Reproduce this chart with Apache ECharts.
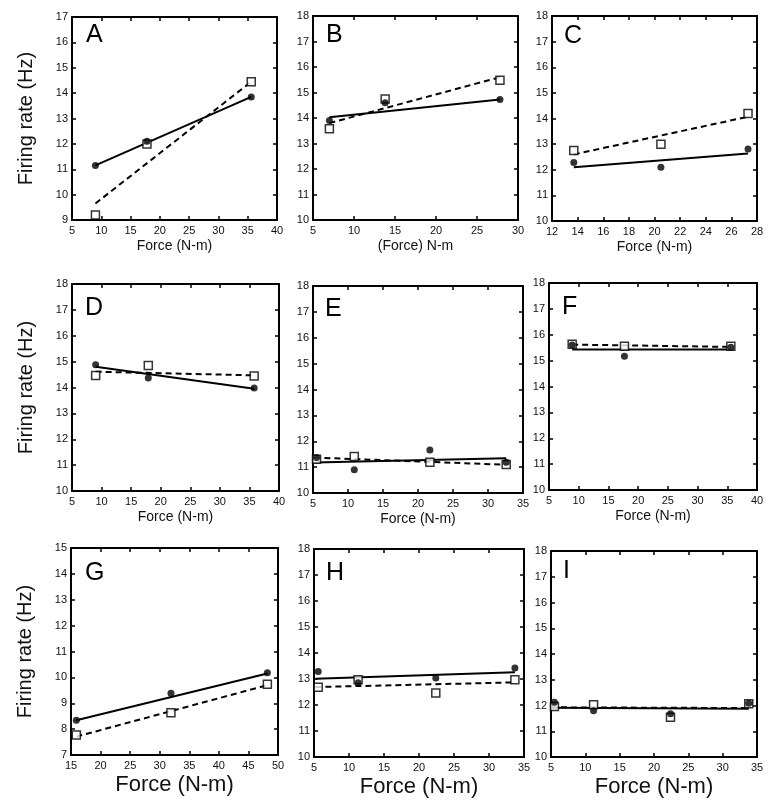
<!DOCTYPE html>
<html>
<head>
<meta charset="utf-8">
<script src="https://cdn.jsdelivr.net/npm/echarts@6/dist/echarts.min.js"></script>
<style>
  html, body { margin: 0; padding: 0; background: #fff; }
  #chart { width: 776px; height: 811px; }
</style>
</head>
<body>
<div id="chart"></div>
<script>
// panel letters and axis ranges [min, max, step]
var letters = ['A', 'B', 'C', 'D', 'E', 'F', 'G', 'H', 'I']
var xRanges = [[5, 40, 5], [5, 30, 5], [12, 28, 2], [5, 40, 5], [5, 35, 5], [5, 40, 5], [15, 50, 5], [5, 35, 5], [5, 35, 5]]
var yRanges = [[9, 17, 1], [10, 18, 1], [10, 18, 1], [10, 18, 1], [10, 18, 1], [10, 18, 1], [7, 15, 1], [10, 18, 1], [10, 18, 1]]
var xNames = ['Force (N-m)', '(Force) N-m', 'Force (N-m)', 'Force (N-m)', 'Force (N-m)', 'Force (N-m)', 'Force (N-m)', 'Force (N-m)', 'Force (N-m)']

// force values (x) per panel
var forceA = [9, 17.8, 35.6]
var forceB = [7, 13.8, 27.8]
var forceC = [13.7, 20.5, 27.3]
var forceD = [9, 17.9, 35.8]
var forceE = [5.5, 10.9, 21.7, 32.6]
var forceF = [8.9, 17.7, 35.6]
var forceG = [15.9, 31.9, 48.2]
var forceH = [5.6, 11.3, 22.4, 33.7]
var forceI = [5.5, 11.2, 22.4, 33.8]

// firing rate, filled circles
var circleA = [11.15, 12.1, 13.85]
var circleB = [13.9, 14.6, 14.73]
var circleC = [12.28, 12.1, 12.81]
var circleD = [14.88, 14.37, 13.98]
var circleE = [11.37, 10.9, 11.66, 11.19]
var circleF = [15.6, 15.17, 15.52]
var circleG = [8.34, 9.39, 10.18]
var circleH = [13.29, 12.86, 13.04, 13.42]
var circleI = [12.13, 11.8, 11.68, 12.09]

// firing rate, open squares
var squareA = [9.2, 12.0, 14.45]
var squareB = [13.58, 14.75, 15.48]
var squareC = [12.75, 13.0, 14.2]
var squareD = [14.46, 14.85, 14.44]
var squareE = [11.3, 11.41, 11.19, 11.1]
var squareF = [15.63, 15.56, 15.56]
var squareG = [7.77, 8.63, 9.73]
var squareH = [12.68, 12.97, 12.46, 12.97]
var squareI = [11.96, 12.03, 11.54, 12.07]

// fitted lines, end points
var solidA = [[9, 11.15], [35.6, 13.85]]
var solidB = [[7, 14.03], [27.8, 14.73]]
var solidC = [[13.7, 12.1], [27.3, 12.63]]
var solidD = [[9, 14.8], [35.8, 13.95]]
var solidE = [[5.2, 11.18], [32.6, 11.34]]
var solidF = [[8.9, 15.43], [35.6, 15.43]]
var solidG = [[15.9, 8.34], [48.2, 10.15]]
var solidH = [[5.2, 13.01], [33.7, 13.26]]
var solidI = [[5, 11.91], [33.8, 11.87]]

var dashA = [[9, 9.65], [35.6, 14.45]]
var dashB = [[7, 13.8], [27.8, 15.6]]
var dashC = [[13.7, 12.6], [27.3, 14.07]]
var dashD = [[9, 14.61], [35.8, 14.47]]
var dashE = [[5.2, 11.37], [32.6, 11.09]]
var dashF = [[8.9, 15.62], [35.6, 15.53]]
var dashG = [[15.9, 7.71], [48.2, 9.7]]
var dashH = [[5.2, 12.69], [33.7, 12.87]]
var dashI = [[5, 11.93], [33.8, 11.9]]

var forces = [forceA, forceB, forceC, forceD, forceE, forceF, forceG, forceH, forceI]
var circles = [circleA, circleB, circleC, circleD, circleE, circleF, circleG, circleH, circleI]
var squares = [squareA, squareB, squareC, squareD, squareE, squareF, squareG, squareH, squareI]
var solids = [solidA, solidB, solidC, solidD, solidE, solidF, solidG, solidH, solidI]
var dashes = [dashA, dashB, dashC, dashD, dashE, dashF, dashG, dashH, dashI]

// plot boxes [left, top, right, bottom] in px
var boxes = [
  [72, 17, 277, 220], [313, 16, 518, 220], [552, 16, 757, 221],
  [72, 284, 279, 491], [313, 286, 523, 493], [549, 283, 757, 490],
  [71, 548, 278, 755], [314, 549, 524, 757], [551, 551, 757, 757]
]
// letter positions [left, top]
var letterPos = [
  [86, 23], [326, 23], [564, 24],
  [85, 296], [325, 297], [562, 295],
  [85, 561], [326, 561], [563, 559]
]

var font = 'Liberation Sans, Arial, sans-serif'
var grids = [], xAxes = [], yAxes = [], series = [], titles = []

function pairs(xs, ys) {
  return xs.map(function(x, i) { return [x, ys[i]] })
}

for (var i = 0; i < 9; i++) {
  var b = boxes[i]
  var bigRow = i >= 6
  grids.push({ left: b[0], top: b[1], width: b[2] - b[0], height: b[3] - b[1] })

  var line = { show: true, lineStyle: { color: '#000', width: 2 } }
  var tick = { show: true, inside: true, length: 4, lineStyle: { color: '#000', width: 1.5 } }

  xAxes.push({
    gridIndex: i, type: 'value', position: 'bottom',
    min: xRanges[i][0], max: xRanges[i][1], interval: xRanges[i][2],
    axisLine: line, axisTick: tick, splitLine: { show: false },
    axisLabel: { fontSize: 11, margin: 5, color: '#111', fontFamily: font },
    name: xNames[i], nameLocation: 'middle', nameGap: bigRow ? 19 : 19,
    nameTextStyle: { fontSize: bigRow ? 22 : 14, color: '#111', fontFamily: font }
  })
  xAxes.push({
    gridIndex: i, type: 'value', position: 'top',
    min: xRanges[i][0], max: xRanges[i][1], interval: xRanges[i][2],
    axisLine: line, axisTick: tick, splitLine: { show: false },
    axisLabel: { show: false }
  })
  yAxes.push({
    gridIndex: i, type: 'value', position: 'left',
    min: yRanges[i][0], max: yRanges[i][1], interval: yRanges[i][2],
    axisLine: line, axisTick: tick, splitLine: { show: false },
    axisLabel: { fontSize: 11, margin: 4, color: '#111', fontFamily: font },
    name: i % 3 === 0 ? 'Firing rate (Hz)' : '', nameLocation: 'middle', nameGap: 36,
    nameTextStyle: { fontSize: 20, color: '#111', fontFamily: font }
  })
  yAxes.push({
    gridIndex: i, type: 'value', position: 'right',
    min: yRanges[i][0], max: yRanges[i][1], interval: yRanges[i][2],
    axisLine: line, axisTick: tick, splitLine: { show: false },
    axisLabel: { show: false }
  })

  var xi = 2 * i
  series.push({
    type: 'line', xAxisIndex: xi, yAxisIndex: xi, data: solids[i],
    symbol: 'none', silent: true, z: 2,
    lineStyle: { color: '#000', width: 2 }
  })
  series.push({
    type: 'line', xAxisIndex: xi, yAxisIndex: xi, data: dashes[i],
    symbol: 'none', silent: true, z: 2,
    lineStyle: { color: '#000', width: 2, type: [6, 4] }
  })
  series.push({
    type: 'scatter', xAxisIndex: xi, yAxisIndex: xi, data: pairs(forces[i], squares[i]),
    symbol: 'rect', symbolSize: 8, z: 3,
    itemStyle: { color: '#fff', borderColor: '#000', borderWidth: 1.5 }
  })
  series.push({
    type: 'scatter', xAxisIndex: xi, yAxisIndex: xi, data: pairs(forces[i], circles[i]),
    symbol: 'circle', symbolSize: 7, z: 4,
    itemStyle: { color: '#000' }
  })

  titles.push({
    text: letters[i], left: letterPos[i][0], top: letterPos[i][1], padding: 0,
    textStyle: { fontSize: 25, fontWeight: 'normal', color: '#000', fontFamily: font }
  })
}

var chart = echarts.init(document.getElementById('chart'))
chart.setOption({
  animation: false,
  backgroundColor: '#fff',
  title: titles,
  grid: grids,
  xAxis: xAxes,
  yAxis: yAxes,
  series: series
})
</script>
</body>
</html>
